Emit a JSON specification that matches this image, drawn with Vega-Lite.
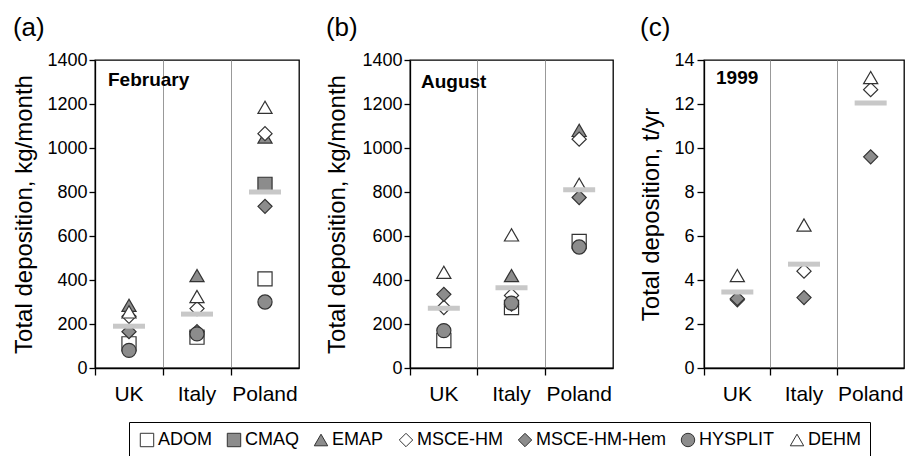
{
  "$schema": "https://vega.github.io/schema/vega-lite/v6.json",
  "background": "white",
  "padding": {"left": 12, "top": 14, "right": 0, "bottom": 0},
  "config": {
    "font": "Liberation Sans",
    "view": {"stroke": "black", "strokeWidth": 1.3},
    "axis": {"domainColor": "black", "tickColor": "black", "labelColor": "black", "titleColor": "black", "labelFont": "Liberation Sans", "titleFont": "Liberation Sans", "titleFontWeight": "normal", "domainWidth": 1.3, "tickWidth": 1.3},
    "title": {"font": "Liberation Sans", "fontSize": 26, "fontWeight": "normal", "anchor": "start", "frame": "bounds", "color": "black", "offset": 10}
  },
  "datasets": {
    "models": [
      {"panel": "a", "country": "UK", "model": "ADOM", "value": 110},
      {"panel": "a", "country": "UK", "model": "EMAP", "value": 285},
      {"panel": "a", "country": "UK", "model": "MSCE-HM", "value": 235},
      {"panel": "a", "country": "UK", "model": "MSCE-HM-Hem", "value": 165},
      {"panel": "a", "country": "UK", "model": "HYSPLIT", "value": 80},
      {"panel": "a", "country": "UK", "model": "DEHM", "value": 255},
      {"panel": "a", "country": "Italy", "model": "ADOM", "value": 140},
      {"panel": "a", "country": "Italy", "model": "EMAP", "value": 420},
      {"panel": "a", "country": "Italy", "model": "MSCE-HM", "value": 270},
      {"panel": "a", "country": "Italy", "model": "MSCE-HM-Hem", "value": 165},
      {"panel": "a", "country": "Italy", "model": "HYSPLIT", "value": 155},
      {"panel": "a", "country": "Italy", "model": "DEHM", "value": 325},
      {"panel": "a", "country": "Poland", "model": "ADOM", "value": 405},
      {"panel": "a", "country": "Poland", "model": "CMAQ", "value": 835},
      {"panel": "a", "country": "Poland", "model": "EMAP", "value": 1050},
      {"panel": "a", "country": "Poland", "model": "MSCE-HM", "value": 1065},
      {"panel": "a", "country": "Poland", "model": "MSCE-HM-Hem", "value": 735},
      {"panel": "a", "country": "Poland", "model": "HYSPLIT", "value": 300},
      {"panel": "a", "country": "Poland", "model": "DEHM", "value": 1185},
      {"panel": "b", "country": "UK", "model": "ADOM", "value": 125},
      {"panel": "b", "country": "UK", "model": "MSCE-HM", "value": 275},
      {"panel": "b", "country": "UK", "model": "MSCE-HM-Hem", "value": 335},
      {"panel": "b", "country": "UK", "model": "HYSPLIT", "value": 170},
      {"panel": "b", "country": "UK", "model": "DEHM", "value": 435},
      {"panel": "b", "country": "Italy", "model": "ADOM", "value": 275},
      {"panel": "b", "country": "Italy", "model": "EMAP", "value": 420},
      {"panel": "b", "country": "Italy", "model": "MSCE-HM", "value": 330},
      {"panel": "b", "country": "Italy", "model": "MSCE-HM-Hem", "value": 290},
      {"panel": "b", "country": "Italy", "model": "HYSPLIT", "value": 295},
      {"panel": "b", "country": "Italy", "model": "DEHM", "value": 605},
      {"panel": "b", "country": "Poland", "model": "ADOM", "value": 575},
      {"panel": "b", "country": "Poland", "model": "EMAP", "value": 1080},
      {"panel": "b", "country": "Poland", "model": "MSCE-HM", "value": 1040},
      {"panel": "b", "country": "Poland", "model": "MSCE-HM-Hem", "value": 775},
      {"panel": "b", "country": "Poland", "model": "HYSPLIT", "value": 550},
      {"panel": "b", "country": "Poland", "model": "DEHM", "value": 835},
      {"panel": "c", "country": "UK", "model": "MSCE-HM", "value": 3.1},
      {"panel": "c", "country": "UK", "model": "MSCE-HM-Hem", "value": 3.15},
      {"panel": "c", "country": "UK", "model": "DEHM", "value": 4.2},
      {"panel": "c", "country": "Italy", "model": "MSCE-HM", "value": 4.4},
      {"panel": "c", "country": "Italy", "model": "MSCE-HM-Hem", "value": 3.2},
      {"panel": "c", "country": "Italy", "model": "DEHM", "value": 6.5},
      {"panel": "c", "country": "Poland", "model": "MSCE-HM", "value": 12.65},
      {"panel": "c", "country": "Poland", "model": "MSCE-HM-Hem", "value": 9.6},
      {"panel": "c", "country": "Poland", "model": "DEHM", "value": 13.2}
    ],
    "means": [
      {"panel": "a", "country": "UK", "value": 190},
      {"panel": "a", "country": "Italy", "value": 245},
      {"panel": "a", "country": "Poland", "value": 800},
      {"panel": "b", "country": "UK", "value": 272},
      {"panel": "b", "country": "Italy", "value": 365},
      {"panel": "b", "country": "Poland", "value": 810},
      {"panel": "c", "country": "UK", "value": 3.45},
      {"panel": "c", "country": "Italy", "value": 4.72},
      {"panel": "c", "country": "Poland", "value": 12.05}
    ],
    "notes": [
      {"panel": "a", "country": "UK", "value": 1310, "label": "February"},
      {"panel": "b", "country": "UK", "value": 1300, "label": "August"},
      {"panel": "c", "country": "UK", "value": 13.2, "label": "1999"}
    ]
  },
  "spacing": 25,
  "resolve": {"scale": {"shape": "shared", "fill": "shared", "stroke": "shared"}},
  "hconcat": [
    {
      "title": "(a)",
      "width": 204, "height": 308,
      "encoding": {
        "x": {"field": "country", "type": "nominal", "scale": {"type": "band", "domain": ["UK", "Italy", "Poland"], "paddingInner": 0, "paddingOuter": 0},
          "axis": {"title": null, "labelAngle": 0, "bandPosition": 0, "grid": true, "gridColor": "#999", "gridWidth": 1, "labelFontSize": 21, "tickSize": 7, "labelPadding": 8}},
        "y": {"field": "value", "type": "quantitative", "scale": {"domain": [0, 1400], "nice": false},
          "axis": {"values": [0, 200, 400, 600, 800, 1000, 1200, 1400], "format": "d", "title": "Total deposition, kg/month", "labelFontSize": 18, "titleFontSize": 24, "tickSize": 6, "labelPadding": 2, "titlePadding": 10, "grid": false}}
      },
      "layer": [
        {"data": {"name": "models"}, "transform": [{"filter": "datum.panel === 'a'"}],
          "mark": {"type": "point", "filled": true, "size": 200, "strokeWidth": 1.2, "opacity": 1},
          "encoding": {
            "shape": {"field": "model", "type": "nominal", "scale": {"domain": ["ADOM", "CMAQ", "EMAP", "MSCE-HM", "MSCE-HM-Hem", "HYSPLIT", "DEHM"], "range": ["square", "square", "triangle-up", "diamond", "diamond", "circle", "triangle-up"]},
              "legend": {"title": null, "orient": "none", "legendX": 34, "legendY": 362, "direction": "horizontal", "strokeColor": "black", "padding": 9, "labelFontSize": 18, "labelFont": "Liberation Sans", "labelColor": "black", "symbolSize": 180, "symbolStrokeWidth": 1, "labelOffset": 2, "columnPadding": 13}},
            "fill": {"field": "model", "type": "nominal", "scale": {"domain": ["ADOM", "CMAQ", "EMAP", "MSCE-HM", "MSCE-HM-Hem", "HYSPLIT", "DEHM"], "range": ["white", "#8c8c8c", "#8c8c8c", "white", "#8c8c8c", "#8c8c8c", "white"]},
              "legend": {"title": null, "orient": "none", "legendX": 34, "legendY": 362, "direction": "horizontal", "strokeColor": "black", "padding": 9, "labelFontSize": 18, "labelFont": "Liberation Sans", "labelColor": "black", "symbolSize": 180, "symbolStrokeWidth": 1, "labelOffset": 2, "columnPadding": 13}},
            "stroke": {"field": "model", "type": "nominal", "scale": {"domain": ["ADOM", "CMAQ", "EMAP", "MSCE-HM", "MSCE-HM-Hem", "HYSPLIT", "DEHM"], "range": ["#333", "#333", "#333", "#333", "#333", "#333", "#333"]},
              "legend": {"title": null, "orient": "none", "legendX": 34, "legendY": 362, "direction": "horizontal", "strokeColor": "black", "padding": 9, "labelFontSize": 18, "labelFont": "Liberation Sans", "labelColor": "black", "symbolSize": 180, "symbolStrokeWidth": 1, "labelOffset": 2, "columnPadding": 13}}
          }},
        {"data": {"name": "means"}, "transform": [{"filter": "datum.panel === 'a'"}],
          "mark": {"type": "tick", "color": "#c8c8c8", "size": 32, "thickness": 5, "opacity": 1}},
        {"data": {"name": "notes"}, "transform": [{"filter": "datum.panel === 'a'"}],
          "mark": {"type": "text", "align": "left", "baseline": "middle", "fontWeight": "bold", "fontSize": 19, "dx": 13, "color": "black"},
          "encoding": {"x": {"field": "country", "type": "nominal", "bandPosition": 0}, "text": {"field": "label"}}}
      ]
    },
    {
      "title": "(b)",
      "width": 203, "height": 308,
      "encoding": {
        "x": {"field": "country", "type": "nominal", "scale": {"type": "band", "domain": ["UK", "Italy", "Poland"], "paddingInner": 0, "paddingOuter": 0},
          "axis": {"title": null, "labelAngle": 0, "bandPosition": 0, "grid": true, "gridColor": "#999", "gridWidth": 1, "labelFontSize": 21, "tickSize": 7, "labelPadding": 8}},
        "y": {"field": "value", "type": "quantitative", "scale": {"domain": [0, 1400], "nice": false},
          "axis": {"values": [0, 200, 400, 600, 800, 1000, 1200, 1400], "format": "d", "title": "Total deposition, kg/month", "labelFontSize": 18, "titleFontSize": 24, "tickSize": 6, "labelPadding": 2, "titlePadding": 12, "grid": false}}
      },
      "layer": [
        {"data": {"name": "models"}, "transform": [{"filter": "datum.panel === 'b'"}],
          "mark": {"type": "point", "filled": true, "size": 200, "strokeWidth": 1.2, "opacity": 1},
          "encoding": {
            "shape": {"field": "model", "type": "nominal"},
            "fill": {"field": "model", "type": "nominal"},
            "stroke": {"field": "model", "type": "nominal"}
          }},
        {"data": {"name": "means"}, "transform": [{"filter": "datum.panel === 'b'"}],
          "mark": {"type": "tick", "color": "#c8c8c8", "size": 32, "thickness": 5, "opacity": 1}},
        {"data": {"name": "notes"}, "transform": [{"filter": "datum.panel === 'b'"}],
          "mark": {"type": "text", "align": "left", "baseline": "middle", "fontWeight": "bold", "fontSize": 19, "dx": 11, "color": "black"},
          "encoding": {"x": {"field": "country", "type": "nominal", "bandPosition": 0}, "text": {"field": "label"}}}
      ]
    },
    {
      "title": "(c)",
      "width": 200, "height": 308,
      "encoding": {
        "x": {"field": "country", "type": "nominal", "scale": {"type": "band", "domain": ["UK", "Italy", "Poland"], "paddingInner": 0, "paddingOuter": 0},
          "axis": {"title": null, "labelAngle": 0, "bandPosition": 0, "grid": true, "gridColor": "#999", "gridWidth": 1, "labelFontSize": 21, "tickSize": 7, "labelPadding": 8}},
        "y": {"field": "value", "type": "quantitative", "scale": {"domain": [0, 14], "nice": false},
          "axis": {"values": [0, 2, 4, 6, 8, 10, 12, 14], "title": "Total deposition, t/yr", "labelFontSize": 18, "titleFontSize": 24, "tickSize": 7, "labelPadding": 3, "titlePadding": 10, "grid": false}}
      },
      "layer": [
        {"data": {"name": "models"}, "transform": [{"filter": "datum.panel === 'c'"}],
          "mark": {"type": "point", "filled": true, "size": 200, "strokeWidth": 1.2, "opacity": 1},
          "encoding": {
            "shape": {"field": "model", "type": "nominal"},
            "fill": {"field": "model", "type": "nominal"},
            "stroke": {"field": "model", "type": "nominal"}
          }},
        {"data": {"name": "means"}, "transform": [{"filter": "datum.panel === 'c'"}],
          "mark": {"type": "tick", "color": "#c8c8c8", "size": 32, "thickness": 5, "opacity": 1}},
        {"data": {"name": "notes"}, "transform": [{"filter": "datum.panel === 'c'"}],
          "mark": {"type": "text", "align": "left", "baseline": "middle", "fontWeight": "bold", "fontSize": 19, "dx": 12, "color": "black"},
          "encoding": {"x": {"field": "country", "type": "nominal", "bandPosition": 0}, "text": {"field": "label"}}}
      ]
    }
  ]
}
